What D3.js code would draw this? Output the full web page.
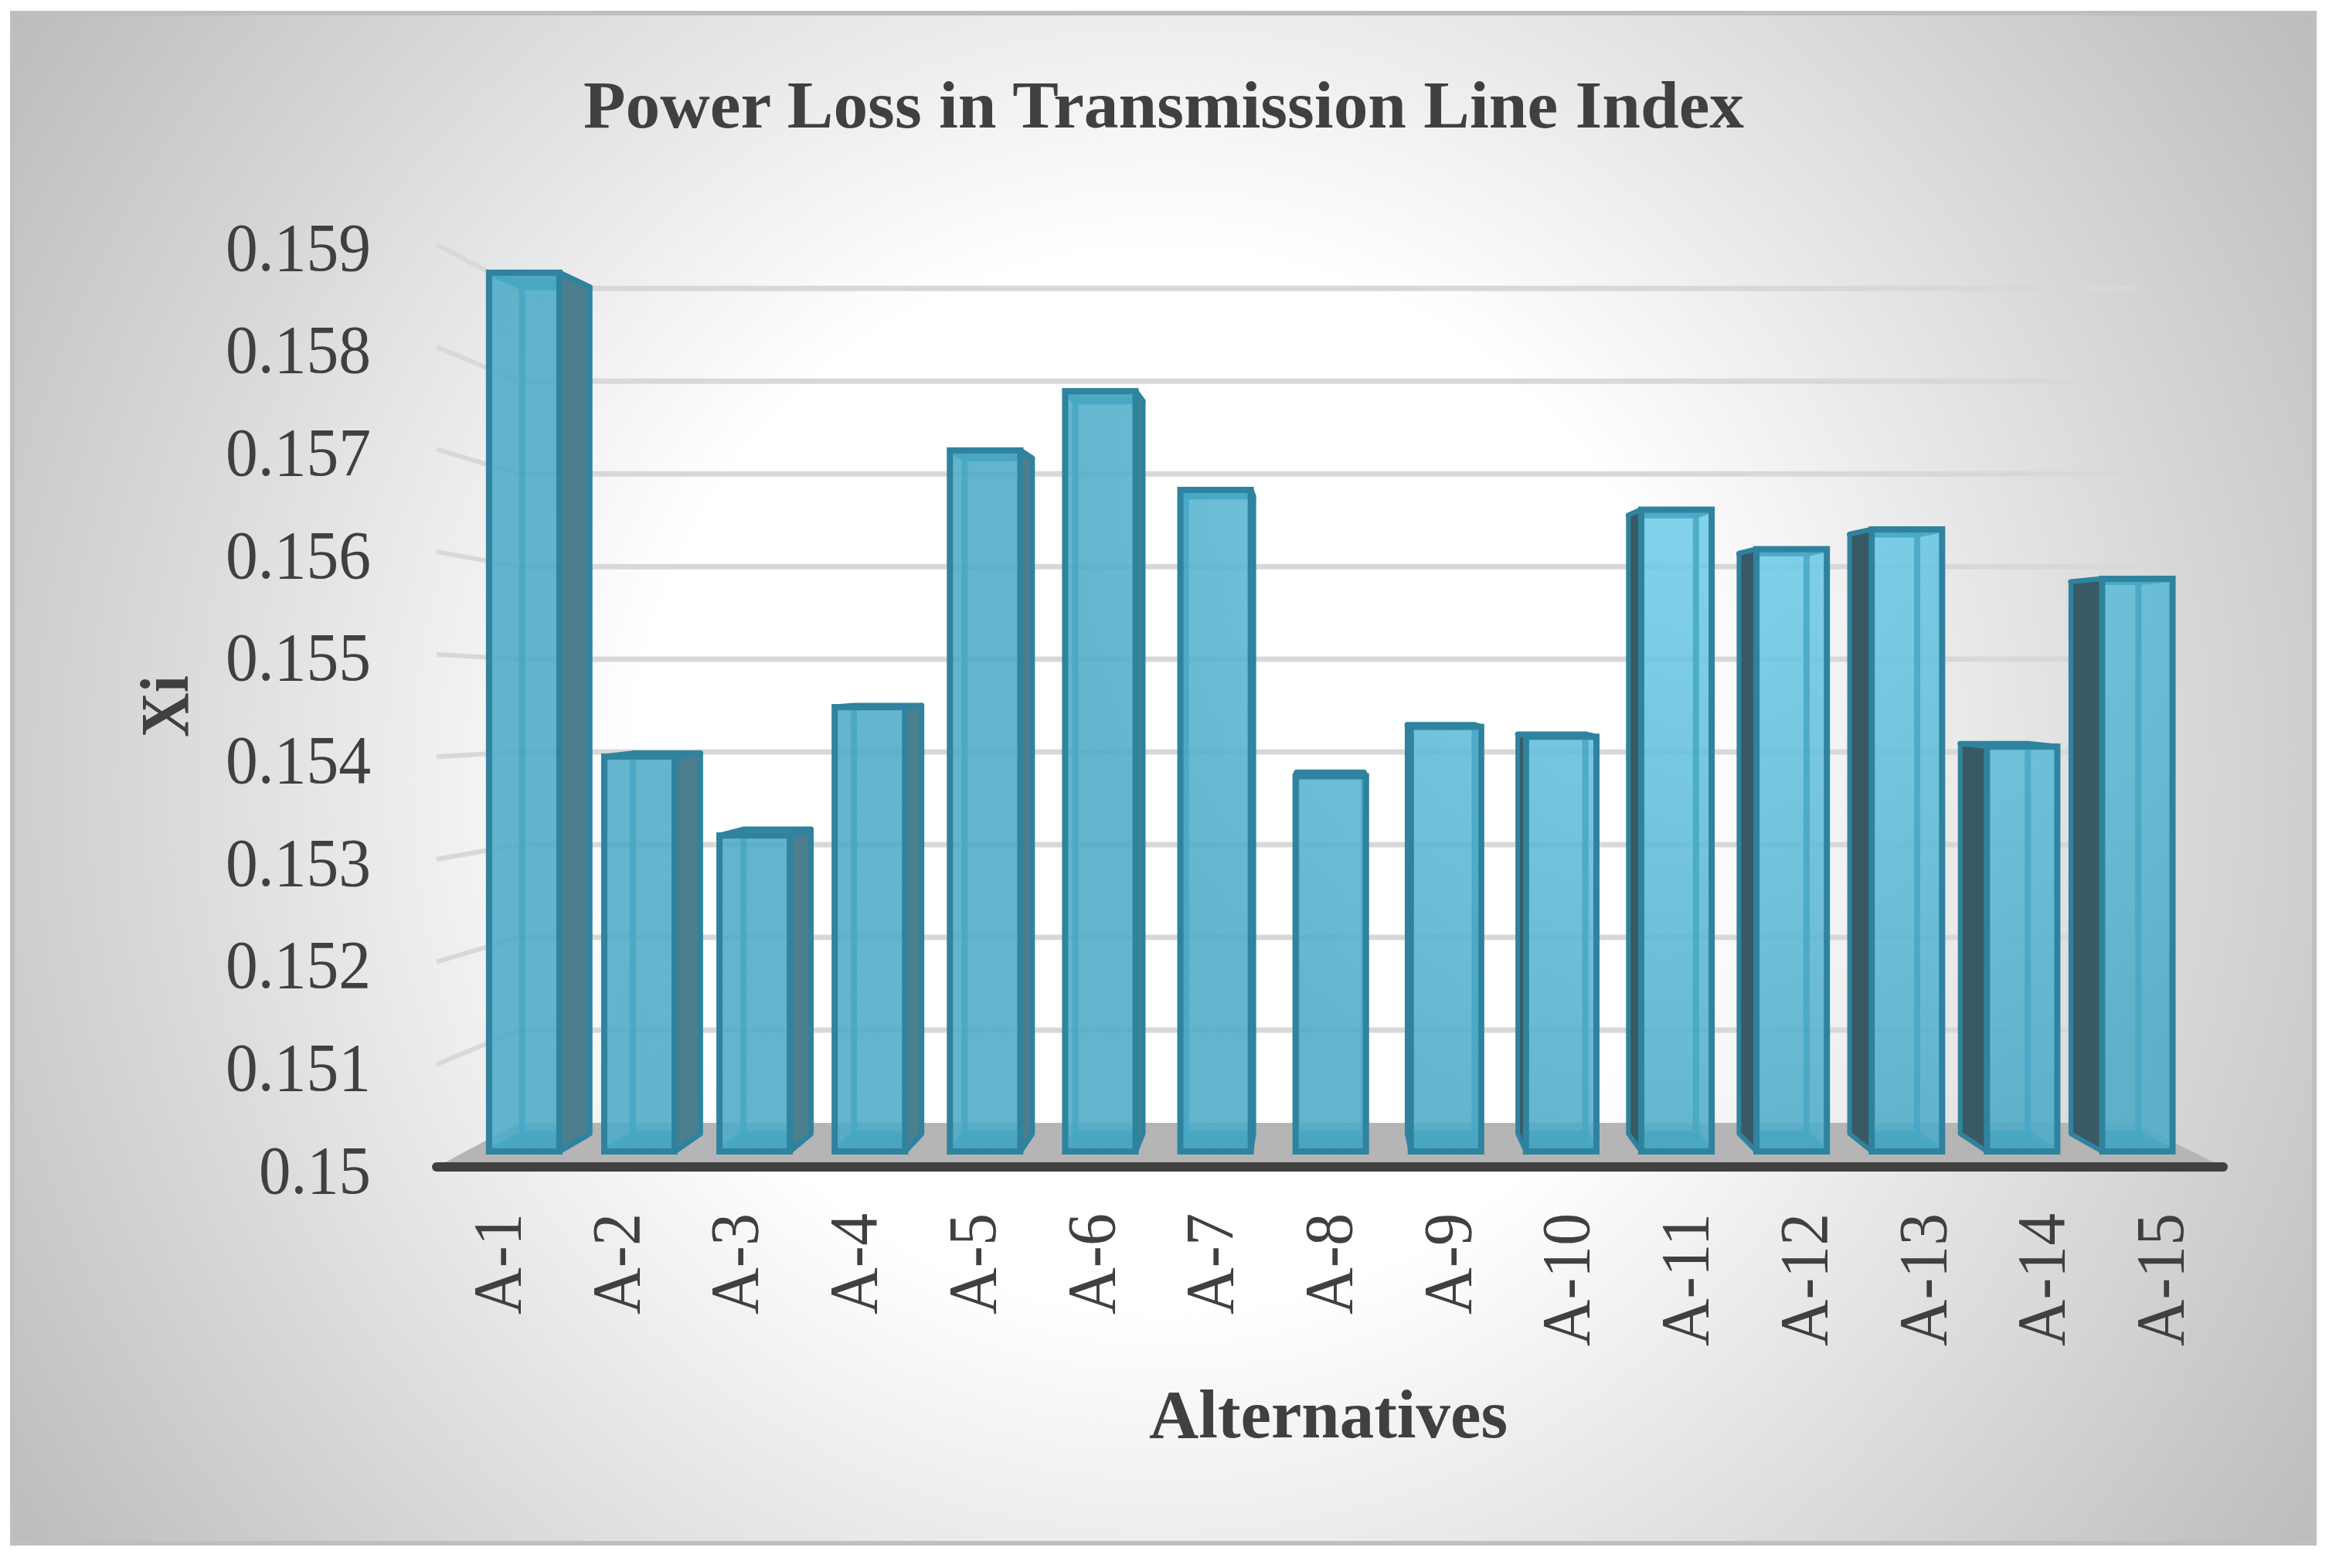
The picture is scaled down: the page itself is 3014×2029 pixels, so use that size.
<!DOCTYPE html>
<html>
<head>
<meta charset="utf-8">
<script src="https://cdn.jsdelivr.net/npm/d3@7"></script>
<style>
html,body{margin:0;padding:0;background:#fff}
svg{display:block}
text{font-family:"Liberation Serif",serif;fill:#404040}
</style>
</head>
<body>
<svg id="chart" width="3014" height="2029"></svg>
<script>
const categories = ["A-1","A-2","A-3","A-4","A-5","A-6","A-7","A-8","A-9","A-10","A-11","A-12","A-13","A-14","A-15"];
const values = [0.1589,0.1540,0.1532,0.1545,0.1571,0.1577,0.1567,0.1538,0.1543,0.1542,0.1565,0.1561,0.1563,0.1541,0.1558];
const yTicks = [0.15,0.151,0.152,0.153,0.154,0.155,0.156,0.157,0.158,0.159];
const yTickLabels = ["0.15","0.151","0.152","0.153","0.154","0.155","0.156","0.157","0.158","0.159"];
const titleText = "Power Loss in Transmission Line Index";
const xTitle = "Alternatives";
const yTitle = "Xi";

const svg = d3.select("#chart");
const defs = svg.append("defs");

// background
const bg = defs.append("radialGradient").attr("id","bg").attr("gradientUnits","userSpaceOnUse")
  .attr("cx",1506).attr("cy",1010).attr("r",1800);
bg.append("stop").attr("offset",0.38).attr("stop-color","#ffffff");
bg.append("stop").attr("offset",1).attr("stop-color","#bbbbbb");
svg.append("rect").attr("x",16).attr("y",17).attr("width",2979).attr("height",1980)
  .attr("fill","url(#bg)").attr("stroke","#bfbfbf").attr("stroke-width",6);

const face = defs.append("radialGradient").attr("id","face").attr("gradientUnits","userSpaceOnUse")
  .attr("cx",2250).attr("cy",620).attr("r",900);
face.append("stop").attr("offset",0).attr("stop-color","#73d0eb");
face.append("stop").attr("offset",1).attr("stop-color","#4eaac7");

// scales (on the front plane of the 3D box)
const wallLeft = 565, wallRight = 2877;
const y = d3.scaleLinear().domain([0.15,0.159]).range([1510,316]);
const xBar = d3.scaleBand().domain(categories).range([562.6,2885]).paddingInner(0.389).paddingOuter(0.1945);
const xAxisScale = d3.scaleBand().domain(categories).range([566,2872]);

// perspective
const vx = 1680, vy = 914;
const px = (x,d) => x + d*(vx-x);
const py = (v,d) => v + d*(vy-v);
const WALL = 0.0957, FRONT = 0.0369, BACK_Y = 0.0721, FRONT_DROP = 2;
const backX = fx => fx + 0.04*(1706-fx);
const line = d3.line();
const poly = pts => line(pts) + "Z";

// floor
svg.append("path").attr("fill","#b5b5b5").attr("d", poly([
  [wallLeft, y(0.15)], [wallRight, y(0.15)],
  [px(wallRight,WALL), py(y(0.15),WALL)], [px(wallLeft,WALL), py(y(0.15),WALL)]
]));

// gridlines
const grid = svg.append("g");
grid.selectAll("line.back").data(yTicks.slice(1)).join("line").attr("class","back")
  .attr("x1",px(wallLeft,WALL)).attr("x2",px(wallRight,WALL))
  .attr("y1",d=>py(y(d),WALL)).attr("y2",d=>py(y(d),WALL))
  .attr("stroke","#d8d8d8").attr("stroke-width",7);
grid.selectAll("line.side").data(yTicks.slice(1)).join("line").attr("class","side")
  .attr("x1",wallLeft).attr("x2",px(wallLeft,WALL))
  .attr("y1",d=>y(d)).attr("y2",d=>py(y(d),WALL))
  .attr("stroke","#d8d8d8").attr("stroke-width",6);

// bars
const EDGE = "#2f839e", INNER = "#47a7c4";
const bars = svg.append("g").selectAll("g").data(categories.map((c,i)=>({c,v:values[i],i}))).join("g");
bars.each(function(d){
  const g = d3.select(this);
  const wx1 = xBar(d.c), wx2 = wx1 + xBar.bandwidth();
  const fx1 = px(wx1,FRONT), fx2 = px(wx2,FRONT);
  const bx1 = backX(fx1), bx2 = backX(fx2);
  const ft = py(y(d.v),FRONT) + FRONT_DROP, fb = py(y(0.15),FRONT) + FRONT_DROP;
  const bt = py(y(d.v),BACK_Y), bb = py(y(0.15),BACK_Y);

  // bottom face
  g.append("path").attr("d",poly([[fx1,fb],[fx2,fb],[bx2,bb],[bx1,bb]])).attr("fill","#2f7f98");
  // top face
  g.append("path").attr("d",poly([[fx1,ft],[fx2,ft],[bx2,bt],[bx1,bt]]))
    .attr("fill","#4a8ea5").attr("stroke",EDGE).attr("stroke-width",7).attr("stroke-linejoin","round");
  // visible sides
  if (bx2 > fx2 + 1) {
    g.append("path").attr("d",poly([[fx2,ft],[bx2,bt],[bx2,bb],[fx2,fb]]))
      .attr("fill","#4c7e8e").attr("stroke",EDGE).attr("stroke-width",7).attr("stroke-linejoin","round");
  }
  if (bx1 < fx1 - 1) {
    g.append("path").attr("d",poly([[fx1,ft],[bx1,bt],[bx1,bb],[fx1,fb]]))
      .attr("fill","#395a64").attr("stroke",EDGE).attr("stroke-width",6).attr("stroke-linejoin","round");
  }
  // front face
  g.append("rect").attr("x",fx1).attr("y",ft).attr("width",fx2-fx1).attr("height",fb-ft)
    .attr("fill","url(#face)").attr("fill-opacity",0.88);
  // back edges seen through the front face
  const clipId = "clip"+d.i;
  defs.append("clipPath").attr("id",clipId).append("rect")
    .attr("x",fx1).attr("y",ft).attr("width",fx2-fx1).attr("height",fb-ft);
  const inner = g.append("g").attr("clip-path",`url(#${clipId})`)
    .attr("fill","none").attr("stroke",INNER).attr("stroke-width",8).attr("stroke-opacity",0.85);
  inner.append("path").attr("d",poly([[bx1,bt],[bx2,bt],[bx2,bb],[bx1,bb]]));
  inner.append("path").attr("d",line([[fx1,ft],[bx1,bt]]));
  inner.append("path").attr("d",line([[fx2,ft],[bx2,bt]]));
  inner.append("path").attr("d",line([[fx1,fb],[bx1,bb]]));
  inner.append("path").attr("d",line([[fx2,fb],[bx2,bb]]));
  // front outline
  g.append("rect").attr("x",fx1).attr("y",ft).attr("width",fx2-fx1).attr("height",fb-ft)
    .attr("fill","none").attr("stroke",EDGE).attr("stroke-width",8);
});

// axis line
svg.append("line").attr("x1",wallLeft).attr("x2",wallRight).attr("y1",y(0.15)).attr("y2",y(0.15))
  .attr("stroke","#404040").attr("stroke-width",12).attr("stroke-linecap","round");

// y axis
const yAxis = d3.axisLeft(y).tickValues(yTicks).tickFormat((d,i)=>yTickLabels[i]).tickSize(0).tickPadding(0);
const yG = svg.append("g").attr("transform","translate(480,0)").call(yAxis);
yG.select(".domain").remove();
yG.selectAll("text").attr("dy",33).attr("x",0).attr("text-anchor","end")
  .style("font-size","88px").style("font-family",'"Liberation Serif",serif').style("fill","#404040")
  .attr("textLength",d=>d===0.15?145:188).attr("lengthAdjust","spacingAndGlyphs");

// x axis
const xAxis = d3.axisBottom(xAxisScale).tickSize(0).tickPadding(0);
const xG = svg.append("g").attr("transform","translate(0,1570)").call(xAxis);
xG.select(".domain").remove();
xG.selectAll("text").attr("y",0).attr("dy",0)
  .attr("transform","translate(30,0) rotate(-90)")
  .attr("x",0).attr("text-anchor","end")
  .style("font-size","88px").style("font-family",'"Liberation Serif",serif').style("fill","#404040")
  .attr("textLength",d=>d.length>3?172:131).attr("lengthAdjust","spacingAndGlyphs");

// titles
svg.append("text").attr("x",1506).attr("y",165).attr("text-anchor","middle")
  .style("font-size","86px").style("font-weight","bold")
  .attr("textLength",1502).attr("lengthAdjust","spacingAndGlyphs").text(titleText);
svg.append("text").attr("x",1719).attr("y",1860).attr("text-anchor","middle")
  .style("font-size","88px").style("font-weight","bold")
  .attr("textLength",464).attr("lengthAdjust","spacingAndGlyphs").text(xTitle);
svg.append("text").attr("transform","translate(243,914) rotate(-90)").attr("text-anchor","middle")
  .style("font-size","88px").style("font-weight","bold")
  .attr("textLength",80).attr("lengthAdjust","spacingAndGlyphs").text(yTitle);
</script>
</body>
</html>
